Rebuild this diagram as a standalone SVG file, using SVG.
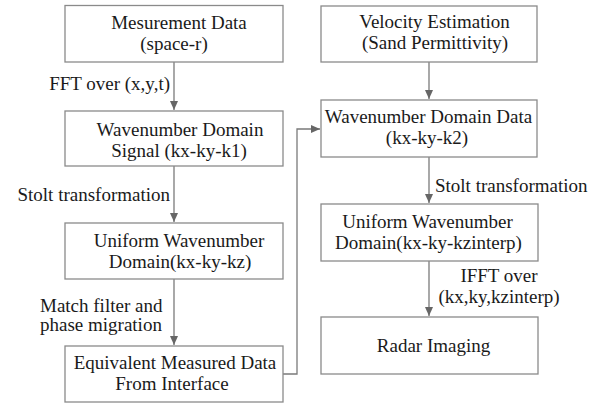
<svg xmlns="http://www.w3.org/2000/svg" width="610" height="404" viewBox="0 0 610 404">
<defs>
<style>
.box{fill:#fff;stroke:#8a8a8a;stroke-width:1.3}
.t{font-size:19px;fill:#1a1a1a;text-anchor:middle}
.l{font-size:19px;fill:#1a1a1a}
.c{fill:none;stroke:#7a7a7a;stroke-width:1.3}
</style>
<marker id="ah" markerUnits="userSpaceOnUse" markerWidth="10" markerHeight="10" viewBox="0 0 10 10" refX="9" refY="5" orient="auto">
<path d="M0,1 L9,5 L0,9 Z" fill="#666"/>
</marker>
</defs>
<rect width="610" height="404" fill="#fff"/>
<g font-family="Liberation Serif, Times New Roman, serif">
<g id="connectors">
<path class="c" d="M174,62 V110" marker-end="url(#ah)"/>
<path class="c" d="M174,166 V222" marker-end="url(#ah)"/>
<path class="c" d="M174,279 V345" marker-end="url(#ah)"/>
<path class="c" d="M283,374 H297 V129 H320" marker-end="url(#ah)"/>
<path class="c" d="M429,62 V99" marker-end="url(#ah)"/>
<path class="c" d="M429,157 V203" marker-end="url(#ah)"/>
<path class="c" d="M429,261 V316" marker-end="url(#ah)"/>
</g>
<g id="labels">
<text class="l" x="170" y="90" text-anchor="end">FFT over (x,y,t)</text>
<text class="l" x="170" y="201" text-anchor="end">Stolt transformation</text>
<text class="l" x="40" y="312">Match filter and</text>
<text class="l" x="40" y="331">phase migration</text>
<text class="l" x="435" y="192">Stolt transformation</text>
<text class="t" x="499" y="282">IFFT over</text>
<text class="t" x="499" y="303">(kx,ky,kzinterp)</text>
</g>
<g id="n1"><rect class="box" x="65" y="5.5" width="218" height="56.5"/>
<text class="t" x="179" y="29">Mesurement Data</text><text class="t" x="174" y="50">(space-r)</text></g>
<g id="n2"><rect class="box" x="65" y="111" width="218" height="55"/>
<text class="t" x="180" y="136">Wavenumber Domain</text><text class="t" x="179" y="157">Signal (kx-ky-k1)</text></g>
<g id="n3"><rect class="box" x="65" y="223" width="218" height="56"/>
<text class="t" x="179" y="247">Uniform Wavenumber</text><text class="t" x="180" y="268">Domain(kx-ky-kz)</text></g>
<g id="n4"><rect class="box" x="65" y="346" width="218" height="56"/>
<text class="t" x="175" y="369">Equivalent Measured Data</text><text class="t" x="172" y="390">From Interface</text></g>
<g id="n5"><rect class="box" x="321" y="6" width="216" height="56"/>
<text class="t" x="434.5" y="28">Velocity Estimation</text><text class="t" x="435" y="49">(Sand Permittivity)</text></g>
<g id="n6"><rect class="box" x="321" y="100" width="216" height="57"/>
<text class="t" x="428.5" y="123">Wavenumber Domain Data</text><text class="t" x="427" y="144">(kx-ky-k2)</text></g>
<g id="n7"><rect class="box" x="321" y="204" width="217" height="57"/>
<text class="t" x="427.5" y="228">Uniform Wavenumber</text><text class="t" x="428.5" y="249">Domain(kx-ky-kzinterp)</text></g>
<g id="n8"><rect class="box" x="321" y="317" width="217" height="57"/>
<text class="t" x="433.5" y="352">Radar Imaging</text></g>
</g>
</svg>
